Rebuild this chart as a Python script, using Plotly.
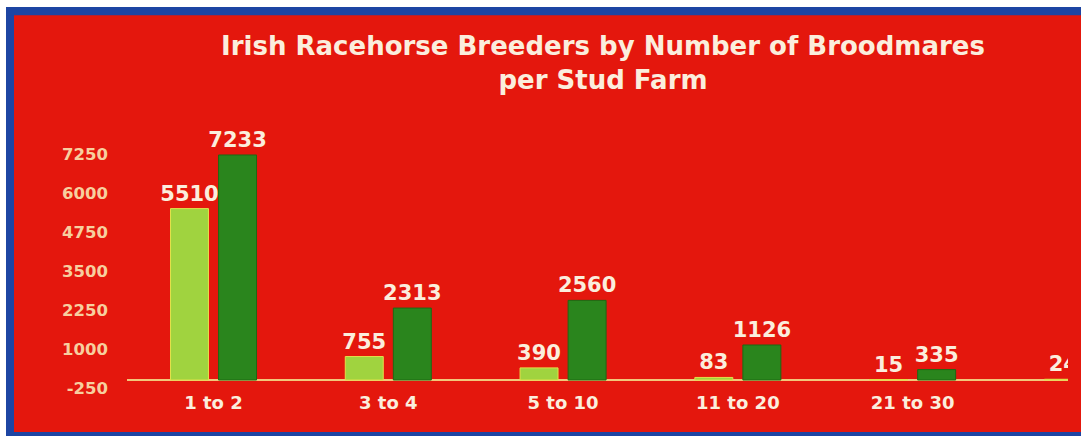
import plotly.graph_objects as go

# ---- data ----
categories = ["1 to 2", "3 to 4", "5 to 10", "11 to 20", "21 to 30", "31 to 50"]
series_a = [5510, 755, 390, 83, 15, 24]       # light green
series_b = [7233, 2313, 2560, 1126, 335, 60]   # dark green
y_ticks = [-250, 1000, 2250, 3500, 4750, 6000, 7250]
title_text = "Irish Racehorse Breeders by Number of Broodmares<br>per Stud Farm"

W, H = 1081, 436
FONT = "DejaVu Sans"
RED = "#e4170d"
BLUE = "#1d45a3"
CREAM = "#fbeedd"
TICK = "#f7cf9f"

fig = go.Figure()
fig.add_trace(go.Bar(
    x=categories, y=series_a, text=[str(v) for v in series_a],
    textposition="outside", constraintext="none", cliponaxis=True,
    textfont=dict(family=FONT, size=21, color=CREAM, weight="bold"),
    marker=dict(color="#a0d33f", line=dict(color="#e2e04a", width=1)),
    hoverinfo="skip",
))
fig.add_trace(go.Bar(
    x=categories, y=series_b, text=[str(v) for v in series_b],
    textposition="outside", constraintext="none", cliponaxis=True,
    textfont=dict(family=FONT, size=21, color=CREAM, weight="bold"),
    marker=dict(color="#2a851d", line=dict(color="#1d6a14", width=1)),
    hoverinfo="skip",
))

shapes = [
    # blue frame: left, top and bottom strips
    dict(type="rect", xref="paper", yref="paper", x0=6 / W, x1=14 / W,
         y0=-0.05, y1=1 - 7 / H, fillcolor=BLUE, line=dict(width=0), layer="below"),
    dict(type="rect", xref="paper", yref="paper", x0=6 / W, x1=1.1,
         y0=1 - 15.5 / H, y1=1 - 7 / H, fillcolor=BLUE, line=dict(width=0), layer="below"),
    dict(type="rect", xref="paper", yref="paper", x0=6 / W, x1=1.1,
         y0=-0.05, y1=1 - 432 / H, fillcolor=BLUE, line=dict(width=0), layer="below"),
    # red chart background
    dict(type="rect", xref="paper", yref="paper", x0=14 / W, x1=1.1,
         y0=1 - 432 / H, y1=1 - 15.5 / H, fillcolor=RED, line=dict(width=0), layer="below"),
]

fig.update_layout(
    width=W, height=H,
    margin=dict(l=0, r=0, t=0, b=0, autoexpand=False),
    paper_bgcolor=RED, plot_bgcolor="rgba(0,0,0,0)",
    showlegend=False,
    barmode="group", bargap=0.45, bargroupgap=0.21,
    shapes=shapes,
    title=dict(text=title_text, x=603 / W, xanchor="center", xref="paper",
               y=1 - 55 / H, yanchor="top", yref="container",
               font=dict(family=FONT, size=26, color=CREAM, weight="bold")),
    xaxis=dict(domain=[127 / W, 1068 / W], range=[-0.495, 4.889],
               showgrid=False, zeroline=False, showline=False, ticks="",
               ticklabelstandoff=2,
               tickfont=dict(family=FONT, size=18, color=CREAM, weight="bold"),
               fixedrange=True),
    yaxis=dict(domain=[1 - 387.8 / H, 1 - 128 / H], range=[-250, 8100],
               tickvals=y_ticks, ticktext=[str(v) for v in y_ticks],
               showgrid=False, showline=False, ticks="",
               zeroline=True, zerolinecolor="#f2c77a", zerolinewidth=2,
               ticklabelstandoff=18,
               tickfont=dict(family=FONT, size=16.5, color=TICK, weight="bold"),
               fixedrange=True),
)

# white page margin strips (left and top) of the original scan
fig.add_shape(type="rect", xref="paper", yref="paper", x0=-0.05, x1=6 / W,
              y0=-0.05, y1=1.05, fillcolor="white", line=dict(width=0), layer="below")
fig.add_shape(type="rect", xref="paper", yref="paper", x0=-0.05, x1=1.1,
              y0=1 - 7 / H, y1=1.05, fillcolor="white", line=dict(width=0), layer="below")

fig.write_html("out.html", config={"displayModeBar": False},
               post_script="document.body.style.margin='0px';document.body.style.overflow='hidden';"
                           "document.body.style.background='" + RED + "';")
